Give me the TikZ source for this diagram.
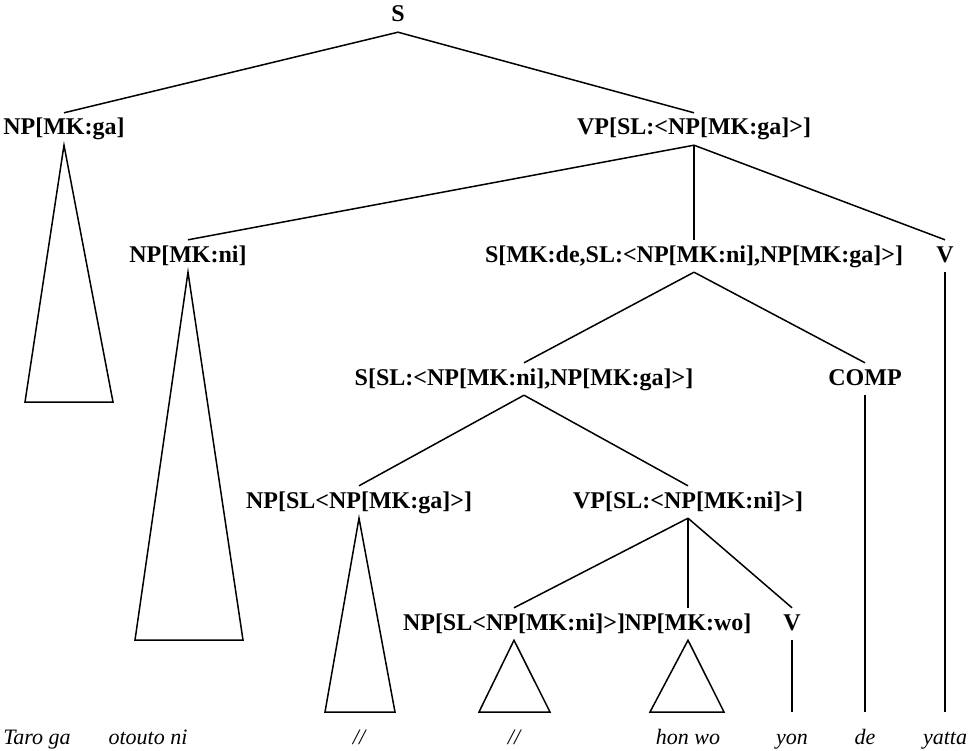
\documentclass[tikz,border=0pt]{standalone}
\usepackage{fontspec}
\setmainfont{Liberation Serif}
\begin{document}
\begin{tikzpicture}[x=1pt,y=-1pt,
  lab/.style={font=\fontsize{24}{28}\selectfont\bfseries, inner sep=4pt,
    text height=18pt, text depth=6pt, anchor=base},
  word/.style={font=\fontsize{22}{26}\selectfont\itshape, inner sep=0pt, anchor=base},
  edge/.style={line width=1.5pt, line join=miter}]
\useasboundingbox (0,0) rectangle (976,751);
% labels (positioned by baseline)
\node[lab] (S) at (398,22) {S};
\node[lab] (npga) at (64,135) {NP[MK:ga]};
\node[lab] (vpga) at (694,135) {VP[SL:<NP[MK:ga]>]};
\node[lab] (npni) at (188,262) {NP[MK:ni]};
\node[lab] (sde) at (694,262) {S[MK:de,SL:<NP[MK:ni],NP[MK:ga]>]};
\node[lab] (v1) at (945,262) {V};
\node[lab] (ssl) at (524,385) {S[SL:<NP[MK:ni],NP[MK:ga]>]};
\node[lab] (comp) at (865,385) {COMP};
\node[lab] (npslga) at (359,508) {NP[SL<NP[MK:ga]>]};
\node[lab] (vpni) at (688,508) {VP[SL:<NP[MK:ni]>]};
\node[lab] (npslni) at (514,630) {NP[SL<NP[MK:ni]>]};
\node[lab] (npwo) at (688,630) {NP[MK:wo]};
\node[lab] (v2) at (792,630) {V};
% words
\node[word] (w1) at (37,744) {Taro ga};
\node[word] (w2) at (148,744) {otouto ni};
\node[word] (w3) at (359,744) {//};
\node[word] (w4) at (514,744) {//};
\node[word] (w5) at (688,744) {hon wo};
\node[word] (w6) at (792,744) {yon};
\node[word] (w7) at (865,744) {de};
\node[word] (w8) at (945,744) {yatta};
% triangle bases and line ends
\coordinate (t1l) at (25,402); \coordinate (t1r) at (113,402);
\coordinate (t2l) at (135,640); \coordinate (t2r) at (243,640);
\coordinate (t3l) at (325,712); \coordinate (t3r) at (395,712);
\coordinate (t4l) at (479,712); \coordinate (t4r) at (550,712);
\coordinate (t5l) at (650,712); \coordinate (t5r) at (724,712);
\coordinate (e1) at (945,712);
\coordinate (e2) at (865,712);
\coordinate (e3) at (792,712);
% edges
\draw[edge] (S.south) -- (npga.north);
\draw[edge] (S.south) -- (vpga.north);
\draw[edge] (vpga.south) -- (npni.north);
\draw[edge] (vpga.south) -- (sde.north);
\draw[edge] (vpga.south) -- (v1.north);
\draw[edge] (sde.south) -- (ssl.north);
\draw[edge] (sde.south) -- (comp.north);
\draw[edge] (ssl.south) -- (npslga.north);
\draw[edge] (ssl.south) -- (vpni.north);
\draw[edge] (vpni.south) -- (npslni.north);
\draw[edge] (vpni.south) -- (npwo.north);
\draw[edge] (vpni.south) -- (v2.north);
\draw[edge] (v1.south) -- (e1);
\draw[edge] (comp.south) -- (e2);
\draw[edge] (v2.south) -- (e3);
% triangles
\draw[edge] (npga.south) -- (t1l) -- (t1r) -- cycle;
\draw[edge] (npni.south) -- (t2l) -- (t2r) -- cycle;
\draw[edge] (npslga.south) -- (t3l) -- (t3r) -- cycle;
\draw[edge] (npslni.south) -- (t4l) -- (t4r) -- cycle;
\draw[edge] (npwo.south) -- (t5l) -- (t5r) -- cycle;
\end{tikzpicture}
\end{document}
